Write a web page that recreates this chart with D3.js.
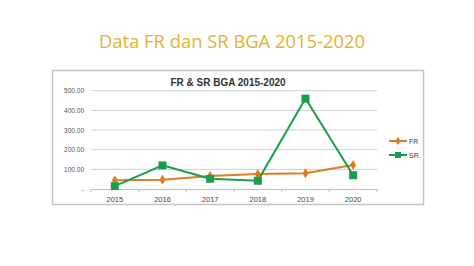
<!DOCTYPE html>
<html><head><meta charset="utf-8">
<script src="https://cdn.jsdelivr.net/npm/d3@7"></script>
<style>body{margin:0;background:#fff;}svg{display:block;}</style>
</head><body>
<script>
const years = ["2015","2016","2017","2018","2019","2020"];
const frValues = [44, 47, 66, 76, 80, 122];
const srValues = [15, 120, 52, 42, 460, 70];
const yTicks = [0, 100, 200, 300, 400, 500];
const seriesNames = ["FR", "SR"];

const W = 474, H = 266;
const svg = d3.select("body").append("svg").attr("width", W).attr("height", H);

svg.append("text").attr("x", 232).attr("y", 48).attr("text-anchor", "middle")
  .attr("font-family", "Open Sans, sans-serif").attr("font-size", 19).attr("font-weight", 400)
  .attr("fill", "#E2B233").attr("textLength", 266).attr("lengthAdjust", "spacingAndGlyphs")
  .text("Data FR dan SR BGA 2015-2020");

// chart box
svg.append("rect").attr("x", 52.5).attr("y", 70.5).attr("width", 371).attr("height", 134)
  .attr("fill", "#fff").attr("stroke", "#c4c4c4").attr("stroke-width", 1.5);

svg.append("text").attr("x", 228).attr("y", 85.5).attr("text-anchor", "middle")
  .attr("font-family", "Liberation Sans, Arial, sans-serif").attr("font-size", 10).attr("font-weight", "bold")
  .attr("fill", "#333").text("FR & SR BGA 2015-2020");

const x = d3.scaleBand().domain(years).range([91, 377]);
const y = d3.scaleLinear().domain([0, 500]).range([189, 90.7]);

const g = svg.append("g");
// gridlines
g.selectAll("line.grid").data(yTicks.filter(d => d > 0)).join("line")
  .attr("x1", 91).attr("x2", 377).attr("y1", d => y(d)).attr("y2", d => y(d))
  .attr("stroke", "#cfcfcf").attr("stroke-width", 1);

// y axis labels
const yAxis = d3.axisLeft(y).tickValues(yTicks).tickSize(0).tickPadding(7)
  .tickFormat(d => d === 0 ? "-" : d3.format(".2f")(d));
const ya = svg.append("g").attr("transform", "translate(91,0)").call(yAxis);
ya.select(".domain").remove();
ya.selectAll("text").attr("font-family", "Liberation Sans, Arial, sans-serif").attr("font-size", 6.5).attr("fill", "#555");

// x axis
const xAxis = d3.axisBottom(x).tickSize(0).tickPadding(8);
const xa = svg.append("g").attr("transform", `translate(0,${y(0)})`).call(xAxis);
xa.select(".domain").attr("stroke", "#bfbfbf");
xa.selectAll("text").attr("font-family", "Liberation Sans, Arial, sans-serif").attr("font-size", 7.5).attr("fill", "#444");
// band boundary ticks
const bounds = years.map(d => x(d)).concat([x.range()[1]]);
svg.append("g").selectAll("line").data(bounds).join("line")
  .attr("x1", d => d).attr("x2", d => d).attr("y1", y(0)).attr("y2", y(0) + 3)
  .attr("stroke", "#bfbfbf");

const cx = d => x(d) + x.bandwidth() / 2;
const line = d3.line().x((d, i) => cx(years[i])).y(d => y(d));

const orange = "#E07B22", green = "#1B9E4B";
svg.append("path").datum(frValues).attr("d", line).attr("fill", "none").attr("stroke", orange).attr("stroke-width", 2);
svg.append("path").datum(srValues).attr("d", line).attr("fill", "none").attr("stroke", green).attr("stroke-width", 2);

const diamond = d3.symbol().type(d3.symbolDiamond).size(30);
svg.append("g").selectAll("path").data(frValues).join("path")
  .attr("d", diamond).attr("transform", (d, i) => `translate(${cx(years[i])},${y(d)})`).attr("fill", orange);
svg.append("g").selectAll("rect").data(srValues).join("rect")
  .attr("x", (d, i) => cx(years[i]) - 4).attr("y", d => y(d) - 4).attr("width", 8).attr("height", 8).attr("fill", green);

// legend
const leg = svg.append("g");
seriesNames.forEach((name, i) => {
  const ly = 141 + i * 14;
  const col = i === 0 ? orange : green;
  leg.append("line").attr("x1", 389).attr("x2", 407).attr("y1", ly).attr("y2", ly).attr("stroke", col).attr("stroke-width", 2);
  if (i === 0) leg.append("path").attr("d", d3.symbol().type(d3.symbolDiamond).size(22)).attr("transform", `translate(398,${ly})`).attr("fill", col);
  else leg.append("rect").attr("x", 395).attr("y", ly - 3).attr("width", 6).attr("height", 6).attr("fill", col);
  leg.append("text").attr("x", 409).attr("y", ly + 2.5).attr("font-family", "Liberation Sans, Arial, sans-serif")
    .attr("font-size", 7).attr("fill", "#444").text(name);
});
</script>
</body></html>
